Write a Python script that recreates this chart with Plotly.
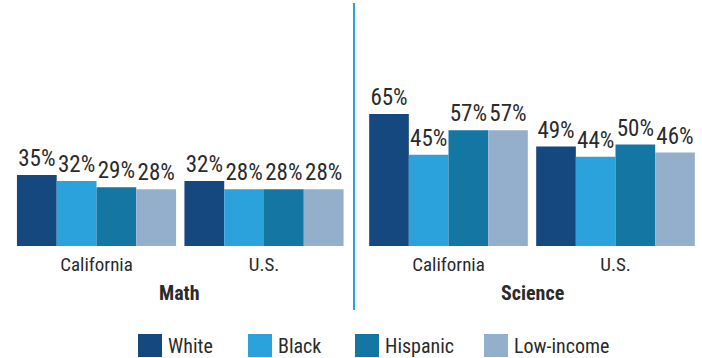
import plotly.graph_objects as go

# ---- data ----
groups = ["White", "Black", "Hispanic", "Low-income"]
regions = ["California", "U.S."]
math_values = {
    "White": [35, 32],
    "Black": [32, 28],
    "Hispanic": [29, 28],
    "Low-income": [28, 28],
}
science_values = {
    "White": [65, 49],
    "Black": [45, 44],
    "Hispanic": [57, 50],
    "Low-income": [57, 46],
}
subjects = ["Math", "Science"]

colors = ["#15487f", "#2ca2dd", "#1376a3", "#94afcc"]
FONT = "Liberation Sans Narrow, Roboto Condensed, Arial Narrow, Liberation Sans, sans-serif"
TXT = "#2b2b2b"
W, H = 702, 358

fig = go.Figure()
for i, g in enumerate(groups):
    for j, (vals, xa, ya) in enumerate([(math_values, "x", "y"), (science_values, "x2", "y2")]):
        fig.add_trace(go.Bar(
            x=regions, y=vals[g], name=g, xaxis=xa, yaxis=ya,
            marker=dict(color=colors[i], line=dict(width=0)),
            text=[f"{v}%" for v in vals[g]], textposition="outside",
            textfont=dict(family=FONT, size=23, color=TXT),
            constraintext="none", cliponaxis=False, showlegend=False,
            hoverinfo="skip",
        ))

def px_x(p):
    return p / W

def px_y(p):
    return (H - p) / H

ydom = [px_y(246), 1.0]
yrange = [0, 246 / 2.03]

axis_common = dict(showgrid=False, zeroline=False, showline=False, ticks="",
                   ticklabelstandoff=5,
                   tickfont=dict(family=FONT, size=19, color=TXT), fixedrange=True)

fig.update_layout(
    width=W, height=H, margin=dict(l=0, r=0, t=0, b=0),
    paper_bgcolor="white", plot_bgcolor="white",
    barmode="group", bargap=0.05, bargroupgap=0,
    xaxis=dict(domain=[px_x(12.75), px_x(347.75)], anchor="y", **axis_common),
    xaxis2=dict(domain=[px_x(365), px_x(699)], anchor="y2", **axis_common),
    yaxis=dict(domain=ydom, range=yrange, visible=False, anchor="x"),
    yaxis2=dict(domain=ydom, range=yrange, visible=False, anchor="x2"),
    showlegend=False,
)

# subject titles
for s, cx in zip(subjects, [179, 532]):
    fig.add_annotation(x=px_x(cx), y=px_y(293), xref="paper", yref="paper",
                       text=f"<b>{s}</b>", showarrow=False,
                       font=dict(family=FONT, size=20, color=TXT),
                       xanchor="center", yanchor="middle")

# divider
fig.add_shape(type="line", xref="paper", yref="paper",
              x0=px_x(354), x1=px_x(354), y0=px_y(3), y1=px_y(310),
              line=dict(color="#2ca2dd", width=2))

# legend
leg_sq_x = [138, 248, 355, 484]
for g, c, lx in zip(groups, colors, leg_sq_x):
    fig.add_shape(type="rect", xref="paper", yref="paper",
                  x0=px_x(lx), x1=px_x(lx + 24), y0=px_y(357), y1=px_y(334),
                  fillcolor=c, line=dict(width=0))
    fig.add_annotation(x=px_x(lx + 28), y=px_y(346), xref="paper", yref="paper",
                       text=g, showarrow=False, xanchor="left", yanchor="middle",
                       font=dict(family=FONT, size=20, color=TXT))

fig.write_html("out.html")
